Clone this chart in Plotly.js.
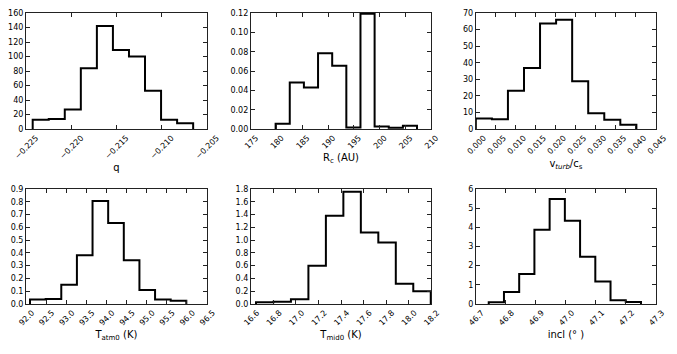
<!DOCTYPE html>
<html>
<head>
<meta charset="utf-8">
<script src="https://cdn.plot.ly/plotly-3.0.1.min.js"></script>
<style>html,body{margin:0;padding:0;background:#fff}</style>
</head>
<body>
<div id="plot" style="width:677px;height:354px"></div>
<script>
// bin ranges (first edge, last edge) for each panel, 10 bins each
var qRange = [-0.22426, -0.20651];
var rcRange = [179.80, 207.27];
var vtRange = [0.0, 0.0401];
var taRange = [92.10, 95.99];
var tmRange = [16.645, 18.197];
var inRange = [46.743, 47.250];

// histogram heights
var qCounts = [13, 14, 27, 84, 142, 109, 100, 53, 13, 8];
var rcCounts = [0.0056, 0.0481, 0.0429, 0.0785, 0.0656, 0.0017, 0.1193, 0.0028, 0.0014, 0.0035];
var vtCounts = [6.4, 6.0, 23.1, 36.8, 63.6, 66.0, 28.8, 9.5, 5.6, 2.6];
var taCounts = [0.036, 0.039, 0.151, 0.382, 0.806, 0.635, 0.343, 0.109, 0.036, 0.026];
var tmCounts = [0.026, 0.036, 0.073, 0.60, 1.384, 1.759, 1.119, 0.963, 0.317, 0.198];
var inCounts = [0.087, 0.62, 1.56, 3.87, 5.48, 4.34, 2.46, 1.18, 0.19, 0.10];

var xLabels = ['q', 'R<sub>c</sub> (AU)', 'v<sub><i>turb</i></sub>/c<sub>s</sub>',
  'T<sub>atm0</sub> (K)', 'T<sub>mid0</sub> (K)', 'incl (° )'];

// step outline like matplotlib histtype='step'
function stepTrace(range, counts, n) {
  var nb = counts.length;
  var w = (range[1] - range[0]) / nb;
  var xs = [range[0]], ys = [0];
  for (var i = 0; i <= nb; i++) {
    xs.push(range[0] + i * w);
    ys.push(i < nb ? counts[i] : 0);
  }
  return {
    x: xs, y: ys, type: 'scatter', mode: 'lines',
    line: {shape: 'hv', color: '#000', width: 2},
    xaxis: 'x' + (n === 1 ? '' : n), yaxis: 'y' + (n === 1 ? '' : n),
    showlegend: false, hoverinfo: 'skip'
  };
}

var data = [
  stepTrace(qRange, qCounts, 1),
  stepTrace(rcRange, rcCounts, 2),
  stepTrace(vtRange, vtCounts, 3),
  stepTrace(taRange, taCounts, 4),
  stepTrace(tmRange, tmCounts, 5),
  stepTrace(inRange, inCounts, 6)
];

var xDom = [[0, 0.287], [0.357, 0.643], [0.714, 1]];
var yDom = [[0.601, 1], [0, 0.395]];

// shift: moves rotated labels so they sit centred under the tick (matplotlib style)
var xSet = [
  {range: [-0.225, -0.205], dtick: 0.005, tickformat: '.3f', shift: 10},
  {range: [175, 210], dtick: 5, tickformat: 'd', shift: 5},
  {range: [0, 0.045], dtick: 0.005, tickformat: '.3f', shift: 8},
  {range: [92, 96.5], dtick: 0.5, tickformat: '.1f', shift: 6},
  {range: [16.6, 18.2], dtick: 0.2, tickformat: '.1f', shift: 6},
  {range: [46.7, 47.3], dtick: 0.1, tickformat: '.1f', shift: 6}
];
var ySet = [
  {range: [0, 160], dtick: 20, tickformat: 'd'},
  {range: [0, 0.12], dtick: 0.02, tickformat: '.2f'},
  {range: [0, 70], dtick: 10, tickformat: 'd'},
  {range: [0, 0.9], dtick: 0.1, tickformat: '.1f'},
  {range: [0, 1.8], dtick: 0.2, tickformat: '.1f'},
  {range: [0, 6], dtick: 1, tickformat: 'd'}
];

var layout = {
  width: 677, height: 354,
  margin: {l: 26, r: 21, t: 13, b: 50},
  paper_bgcolor: '#fff', plot_bgcolor: '#fff',
  font: {family: 'DejaVu Sans', size: 8, color: '#000'},
  showlegend: false
};

for (var i = 0; i < 6; i++) {
  var s = i === 0 ? '' : String(i + 1);
  var xr = xSet[i].range, yr = ySet[i].range;
  // tiny padding so end ticks are not dropped by float rounding
  var xpad = (xr[1] - xr[0]) * 1e-5, ypad = (yr[1] - yr[0]) * 1e-5;
  var common = {
    showline: true, mirror: 'ticks', linecolor: '#222', linewidth: 1,
    ticks: 'inside', ticklen: 4, tickcolor: '#222', tickwidth: 1,
    showgrid: false, zeroline: false, tickmode: 'linear',
    ticklabeloverflow: 'allow'
  };
  layout['xaxis' + s] = Object.assign({}, common, {
    domain: xDom[i % 3], anchor: 'y' + s,
    range: [xr[0] - xpad, xr[1] + xpad], tick0: xr[0], dtick: xSet[i].dtick,
    tickformat: xSet[i].tickformat, tickangle: -45,
    ticklabelshift: xSet[i].shift,
    title: {text: xLabels[i], font: {size: 10}, standoff: 4}
  });
  layout['yaxis' + s] = Object.assign({}, common, {
    domain: yDom[Math.floor(i / 3)], anchor: 'x' + s,
    range: [yr[0] - ypad, yr[1] + ypad], tick0: 0, dtick: ySet[i].dtick,
    tickformat: ySet[i].tickformat
  });
}

Plotly.newPlot('plot', data, layout, {displayModeBar: false, staticPlot: true});
</script>
</body>
</html>
